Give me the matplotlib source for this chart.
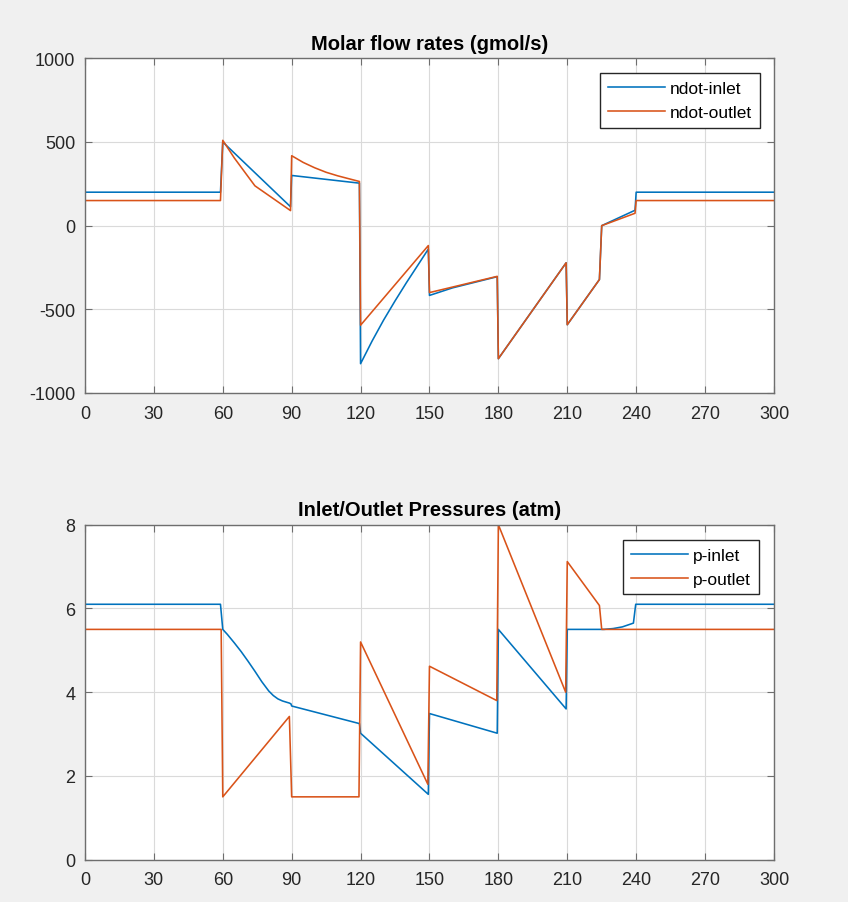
import matplotlib.pyplot as plt

plt.rcParams['font.family'] = ['Liberation Sans', 'DejaVu Sans']

# molar flow rates (gmol/s)
t_ndot_in = [0, 59, 60, 89.5, 90, 119.5, 120, 125, 130, 135, 140, 145, 149.5,
             150, 160, 179.5, 180, 209.5, 210, 224, 225, 239.5, 240, 300]
ndot_in = [200, 200, 500, 113, 300, 254, -825, -690, -565, -450, -340, -235, -140,
           -417, -372, -305, -795, -222, -592, -322, 0, 92, 200, 200]

t_ndot_out = [0, 59, 60, 65, 70, 74, 89.5, 90, 95, 100, 105, 110, 115, 119.5,
              120, 149.5, 150, 179.5, 180, 209.5, 210, 224, 225, 239.5, 240, 300]
ndot_out = [150, 150, 510, 405, 312, 238, 90, 418, 378, 346, 319, 298, 280, 264,
            -595, -119, -400, -303, -795, -222, -592, -322, 0, 74, 150, 150]

# inlet/outlet pressures (atm)
t_p_in = [0, 59, 60, 62, 65, 68, 71, 74, 77, 80, 82, 84, 86, 89, 89.7, 90,
          119.5, 120, 149.5, 150, 179.5, 180, 209.5, 210, 226, 230, 234, 238.8,
          239.8, 300]
p_in = [6.1, 6.1, 5.5, 5.38, 5.18, 4.97, 4.74, 4.5, 4.25, 4.03, 3.92, 3.84, 3.79,
        3.74, 3.72, 3.67, 3.25, 3.02, 1.56, 3.49, 3.02, 5.5, 3.6, 5.5, 5.5, 5.52,
        5.56, 5.65, 6.1, 6.1]

t_p_out = [0, 59.3, 60, 89, 90, 119.3, 120, 149.3, 150, 179.3, 180, 209.3, 210,
           224, 225, 300]
p_out = [5.5, 5.5, 1.5, 3.42, 1.5, 1.5, 5.2, 1.8, 4.62, 3.8, 8.0, 4.0, 7.12,
         6.07, 5.5, 5.5]

xticks = list(range(0, 301, 30))
blue = '#0072BD'
orange = '#D95319'
ink = '#262626'


def style_axes(ax, title):
    ax.set_xlim(0, 300)
    ax.set_xticks(xticks)
    ax.grid(True, color='#dadada', linewidth=0.8)
    ax.set_axisbelow(True)
    for s in ax.spines.values():
        s.set_color('#6e6e6e')
        s.set_linewidth(1.0)
    ax.tick_params(direction='in', top=True, right=True, length=5, width=0.8,
                   color='#6e6e6e', labelcolor=ink, labelsize=13)
    ax.tick_params(axis='x', pad=8.5)
    ax.tick_params(axis='y', pad=7)
    ax.set_title(title, fontsize=14.5, fontweight='bold', color='black', pad=7)


def add_legend(ax, labels, anchor):
    leg = ax.legend(labels, loc='upper right', bbox_to_anchor=anchor,
                    borderaxespad=0, fancybox=False, framealpha=1,
                    edgecolor=ink, fontsize=12.5, handlelength=3.3,
                    handletextpad=0.3, labelspacing=0.5, borderpad=0.45)
    leg.get_frame().set_linewidth(1.0)


fig = plt.figure(figsize=(8.48, 9.03), dpi=100, facecolor='#f0f0f0')

ax1 = fig.add_axes([0.1002, 0.5637, 0.8125, 0.3706])
ax1.plot(t_ndot_in, ndot_in, color=blue, lw=1.15)
ax1.plot(t_ndot_out, ndot_out, color=orange, lw=1.15)
ax1.set_ylim(-1000, 1000)
ax1.set_yticks([-1000, -500, 0, 500, 1000])
ax1.set_yticklabels(['-1000', '-500', '0', '500', '1000'])
style_axes(ax1, 'Molar flow rates (gmol/s)')
add_legend(ax1, ['ndot-inlet', 'ndot-outlet'], (0.9797, 0.9552))

ax2 = fig.add_axes([0.1002, 0.0469, 0.8125, 0.3709])
ax2.plot(t_p_in, p_in, color=blue, lw=1.15)
ax2.plot(t_p_out, p_out, color=orange, lw=1.15)
ax2.set_ylim(0, 8)
ax2.set_yticks([0, 2, 4, 6, 8])
style_axes(ax2, 'Inlet/Outlet Pressures (atm)')
add_legend(ax2, ['p-inlet', 'p-outlet'], (0.978, 0.955))

plt.savefig('out.png', dpi=100, facecolor=fig.get_facecolor())
